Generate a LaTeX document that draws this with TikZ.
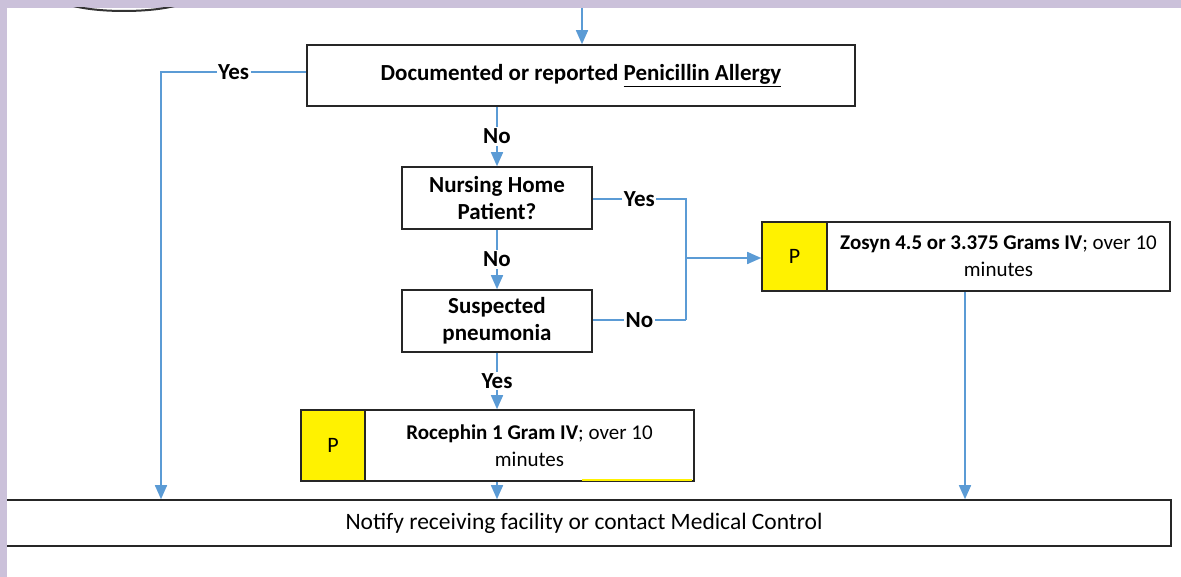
\documentclass[tikz,border=0pt]{standalone}
\usepackage{fontspec}
\setmainfont{Carlito}
\usetikzlibrary{arrows.meta}

\definecolor{flowblue}{HTML}{5B9BD5}
\definecolor{lavender}{HTML}{CBC1DA}

\begin{document}
\begin{tikzpicture}[x=1pt, y=-1pt, font=\fontsize{23}{27}\selectfont,
    box/.style={draw=black!85, line width=1.6pt, fill=white, align=center, inner sep=0pt},
    pbox/.style={box, fill=yellow, font=\fontsize{22}{27}\selectfont},
    drug/.style={box, font=\fontsize{21}{27}\selectfont},
    flow/.style={draw=flowblue, line width=1.6pt},
    arr/.style={flow, -{Triangle[length=14pt, width=12pt]}},
    lbl/.style={fill=white, inner sep=1.5pt, font=\fontsize{23}{27}\selectfont\bfseries}]
  % frame
  \fill[lavender] (0,0) rectangle (1181,577);
  \fill[white] (7,8) rectangle (1181,577);
  \useasboundingbox (0,0) rectangle (1181,577);
  \begin{scope}
    \clip (7,8) rectangle (1181,577);
    \draw[black!80, line width=2pt] (124,-4) ellipse (68 and 15);
  \end{scope}

  \node[box, minimum width=548pt, minimum height=61pt] (allergy) at (581,75.5)
    {\bfseries Documented or reported \underline{Penicillin Allergy}};
  \node[box, minimum width=190pt, minimum height=62pt] (nursing) at (497,198)
    {\bfseries Nursing Home\\\bfseries Patient?};
  \node[box, minimum width=190pt, minimum height=62pt] (pneumo) at (497,321)
    {\bfseries Suspected\\\bfseries pneumonia};
  \node[pbox, minimum width=65pt, minimum height=69pt] (zosynP) at (794.5,256.5) {P};
  \node[drug, minimum width=343pt, minimum height=69pt] (zosyn) at (998.5,256.5)
    {\textbf{Zosyn 4.5 or 3.375 Grams IV}; over 10\\minutes};
  \node[pbox, minimum width=64pt, minimum height=71pt] (rocephP) at (333,445.5) {P};
  \node[drug, minimum width=329pt, minimum height=71pt] (roceph) at (529.5,445.5)
    {\textbf{Rocephin 1 Gram IV}; over 10\\minutes};
  \node[box, minimum width=1174pt, minimum height=46pt, font=\fontsize{23.5}{27}\selectfont] (notify) at (584,523)
    {Notify receiving facility or contact Medical Control};
  \draw[yellow, line width=2pt] (582,480) -- (692,480);
  \fill[lavender] (0,8) rectangle (7,577);

  \coordinate (top) at (582,8);
  \coordinate (yesL) at (161,72);
  \coordinate (split) at (686,258);
  \coordinate (turnY) at (686,199);
  \coordinate (turnN) at (686,320);

  % connectors
  \draw[arr] (top) -- (allergy.north -| top);
  \draw[arr] (allergy.west |- yesL) -- node[lbl, pos=0.5] {Yes} (yesL) -- (yesL |- notify.north);
  \draw[arr] (allergy.south -| nursing) -- node[lbl] {No} (nursing.north);
  \draw[arr] (nursing.south) -- node[lbl] {No} (pneumo.north);
  \draw[arr] (pneumo.south) -- node[lbl] {Yes} (roceph.north -| pneumo);
  \draw[arr] (roceph.south -| pneumo) -- (notify.north -| pneumo);
  \draw[flow] (nursing.east |- turnY) -- node[lbl] {Yes} (turnY) -- (turnN);
  \draw[flow] (pneumo.east |- turnN) -- node[lbl] {No} (turnN);
  \draw[arr] (split) -- (zosynP.west |- split);
  \draw[arr] (zosyn.south -| 965,0) -- (notify.north -| 965,0);
\end{tikzpicture}
\end{document}
